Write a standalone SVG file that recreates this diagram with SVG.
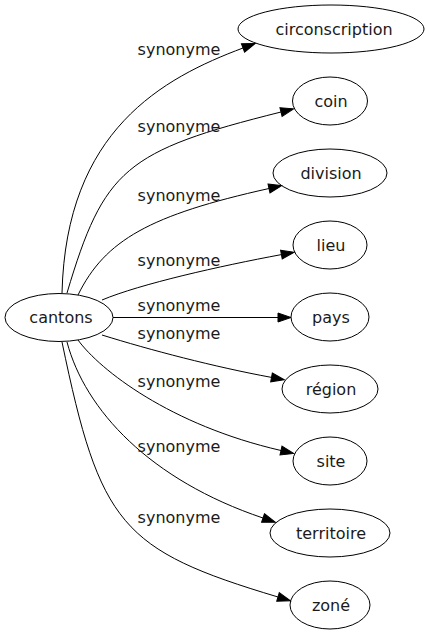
<svg xmlns="http://www.w3.org/2000/svg" width="427" height="635" viewBox="0 0 427 635">
<style>
.node ellipse{fill:none;stroke:#000;stroke-width:1}
.node text{font-family:"DejaVu Sans",sans-serif;font-size:16px;fill:#1a1a1a;text-anchor:middle}
.edges path{fill:none;stroke:#000;stroke-width:1;marker-end:url(#arrow)}
.edges text{font-family:"DejaVu Sans",sans-serif;font-size:16px;fill:#1a1a1a;text-anchor:middle}
</style>
<defs>
<marker id="arrow" markerUnits="userSpaceOnUse" markerWidth="14" markerHeight="10" refX="0" refY="4.5" orient="auto" overflow="visible">
<path d="M0,0 L13,4.5 L0,9 Z" fill="#000" stroke="#000" stroke-width="1"/>
</marker>
</defs>
<rect width="427" height="635" fill="#fff"/>
<g class="edges">
<path d="M62,293 C66,130 163,78 243,48"/>
<path d="M67,293 C104,169 125,151 281,112"/>
<path d="M78,295 C105,240 150,215 269,188.5"/>
<path d="M102,300 C140,284 220,266 281.4,254.6"/>
<path d="M113,317.5 L278,317.5"/>
<path d="M102,335 C150,350 215,367 271.5,377.4"/>
<path d="M78,340 C100,370 170,425 281,450.5"/>
<path d="M67,342 C85,410 150,480 263,518"/>
<path d="M62,342 C100,525 121,550 278,597"/>
<text x="179" y="55">synonyme</text>
<text x="179" y="132">synonyme</text>
<text x="179" y="201">synonyme</text>
<text x="179" y="266">synonyme</text>
<text x="179" y="311">synonyme</text>
<text x="179" y="339">synonyme</text>
<text x="179" y="387">synonyme</text>
<text x="179" y="452">synonyme</text>
<text x="179" y="523">synonyme</text>
</g>
<g id="cantons" class="node"><ellipse cx="59" cy="317.5" rx="54" ry="24"/><text x="61" y="323">cantons</text></g>
<g id="circonscription" class="node"><ellipse cx="331" cy="29" rx="93" ry="24"/><text x="334" y="34.5">circonscription</text></g>
<g id="coin" class="node"><ellipse cx="330" cy="101" rx="37.5" ry="24"/><text x="331" y="106.5">coin</text></g>
<g id="division" class="node"><ellipse cx="330" cy="173" rx="57" ry="24"/><text x="331" y="178.5">division</text></g>
<g id="lieu" class="node"><ellipse cx="330" cy="245" rx="37" ry="24"/><text x="331" y="250.5">lieu</text></g>
<g id="pays" class="node"><ellipse cx="330" cy="317" rx="39" ry="24"/><text x="331" y="322.5">pays</text></g>
<g id="region" class="node"><ellipse cx="330" cy="389" rx="48" ry="24"/><text x="331" y="394.5">région</text></g>
<g id="site" class="node"><ellipse cx="330" cy="461" rx="37" ry="24"/><text x="331" y="466.5">site</text></g>
<g id="territoire" class="node"><ellipse cx="330" cy="533" rx="60" ry="24"/><text x="331" y="538.5">territoire</text></g>
<g id="zone" class="node"><ellipse cx="330" cy="605" rx="40" ry="24"/><text x="331" y="610.5">zoné</text></g>
</svg>
